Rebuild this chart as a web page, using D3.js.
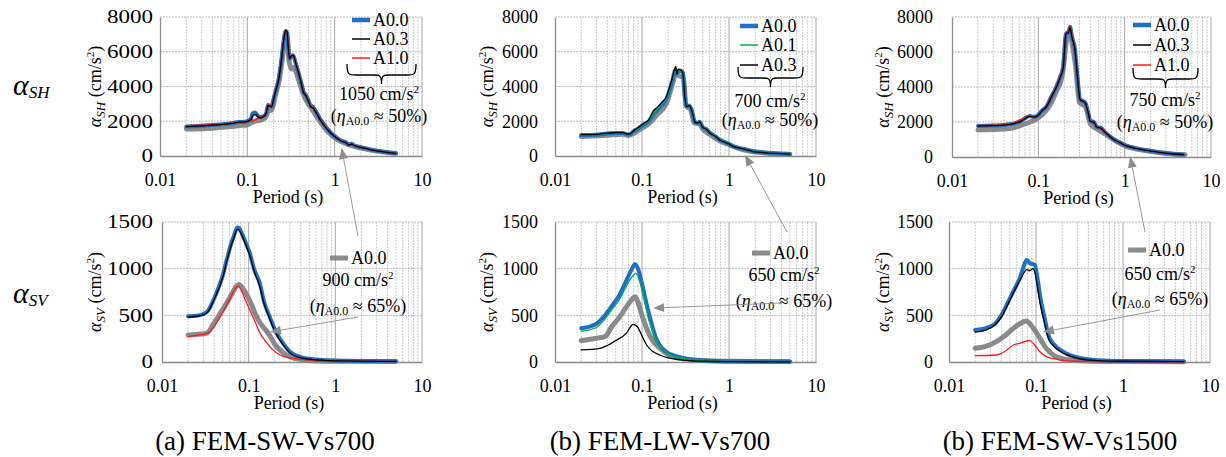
<!DOCTYPE html>
<html>
<head>
<meta charset="utf-8">
<script src="https://cdn.jsdelivr.net/npm/d3@7"></script>
<style>
  body { margin: 0; background: #fff; }
</style>
</head>
<body>
<svg id="chart" width="1226" height="457"></svg>
<script>
// ---- axis ticks ----
const xTicks = [0.01, 0.1, 1, 10];
const xTickLabels = ["0.01", "0.1", "1", "10"];
const shTicks = [0, 2000, 4000, 6000, 8000];
const svTicks = [0, 500, 1000, 1500];
const captions = ["(a) FEM-SW-Vs700", "(b) FEM-LW-Vs700", "(b) FEM-SW-Vs1500"];

// ---- (a) FEM-SW-Vs700, SH  [period (s), cm/s2] ----
const sw700SH_ref = [[0.02,1550],[0.04,1600],[0.06,1680],[0.08,1750],[0.1,1800],[0.12,2000],[0.14,2050],[0.16,2200],[0.175,2600],[0.19,2650],[0.21,3500],[0.23,4300],[0.25,5500],[0.27,6700],[0.285,6900],[0.3,5500],[0.32,5000],[0.34,5100],[0.38,4500],[0.42,3800],[0.46,3300],[0.5,3000],[0.55,2700],[0.6,2400],[0.7,1900],[0.8,1500],[0.9,1250],[1,1050],[1.2,820],[1.5,620],[2,450],[3,280],[5,150]];
const sw700SH_A00 = [[0.02,1700],[0.03,1740],[0.04,1780],[0.05,1820],[0.06,1860],[0.07,1900],[0.08,1960],[0.09,1960],[0.1,2000],[0.11,2150],[0.115,2450],[0.122,2500],[0.13,2350],[0.14,2250],[0.155,2300],[0.165,2500],[0.172,2930],[0.18,2900],[0.19,2850],[0.2,3300],[0.215,3900],[0.23,4500],[0.245,5500],[0.26,6600],[0.275,7200],[0.285,7100],[0.295,6200],[0.305,5600],[0.32,5750],[0.335,5800],[0.36,5300],[0.39,4700],[0.42,4100],[0.44,3700],[0.47,3500],[0.5,3200],[0.53,2900],[0.57,2800],[0.62,2500],[0.7,2050],[0.8,1650],[0.9,1350],[1.0,1150],[1.1,980],[1.2,870],[1.35,780],[1.45,640],[1.55,700],[1.7,600],[2,500],[2.3,440],[2.7,350],[3.2,290],[4,220],[5,160]];
const sw700SH_A03 = [[0.02,1690],[0.03,1730],[0.04,1770],[0.05,1810],[0.06,1850],[0.07,1890],[0.08,1950],[0.09,1950],[0.1,1990],[0.11,2100],[0.117,2350],[0.124,2380],[0.132,2250],[0.14,2200],[0.155,2280],[0.165,2480],[0.172,2900],[0.18,2870],[0.19,2830],[0.2,3280],[0.215,3880],[0.23,4480],[0.245,5480],[0.26,6600],[0.275,7250],[0.285,7150],[0.295,6200],[0.305,5600],[0.32,5750],[0.335,5800],[0.36,5300],[0.39,4700],[0.42,4050],[0.44,3650],[0.47,3450],[0.5,3150],[0.53,2850],[0.57,2750],[0.62,2450],[0.7,2000],[0.8,1600],[0.9,1320],[1.0,1120],[1.1,960],[1.2,850],[1.35,760],[1.45,630],[1.55,680],[1.7,590],[2,490],[2.3,430],[2.7,340],[3.2,280],[4,210],[5,150]];
const sw700SH_A10 = [[0.02,1750],[0.03,1780],[0.04,1810],[0.05,1840],[0.06,1870],[0.07,1900],[0.08,1930],[0.09,1940],[0.1,1960],[0.11,1990],[0.12,2050],[0.13,2150],[0.14,2220],[0.155,2320],[0.165,2550],[0.172,2950],[0.18,2950],[0.19,2900],[0.2,3350],[0.215,3950],[0.23,4550],[0.245,5550],[0.26,6650],[0.275,7250],[0.285,7150],[0.295,6250],[0.305,5650],[0.32,5800],[0.335,5850],[0.36,5350],[0.39,4750],[0.42,4100],[0.44,3700],[0.47,3500],[0.5,3200],[0.53,2900],[0.57,2800],[0.62,2500],[0.7,2050],[0.8,1650],[0.9,1350],[1.0,1150],[1.1,980],[1.2,870],[1.35,780],[1.45,650],[1.55,700],[1.7,600],[2,500],[2.3,440],[2.7,350],[3.2,290],[4,220],[5,160]];

// ---- (a) FEM-SW-Vs700, SV ----
const sw700SV_ref = [[0.02,290],[0.025,295],[0.033,310],[0.04,420],[0.047,520],[0.055,620],[0.065,740],[0.072,810],[0.078,830],[0.085,790],[0.095,720],[0.105,640],[0.12,510],[0.135,420],[0.155,350],[0.176,280],[0.2,190],[0.25,100],[0.3,55],[0.4,25],[0.6,12],[1,8],[5,5]];
const sw700SV_A00 = [[0.02,490],[0.025,495],[0.03,515],[0.034,550],[0.04,680],[0.045,800],[0.05,920],[0.056,1100],[0.062,1250],[0.068,1360],[0.074,1440],[0.078,1430],[0.085,1360],[0.095,1250],[0.103,1170],[0.115,1000],[0.135,840],[0.15,650],[0.176,480],[0.2,350],[0.25,200],[0.3,110],[0.39,55],[0.5,35],[0.8,20],[1,15],[2,10],[5,8]];
const sw700SV_A03 = [[0.02,480],[0.03,505],[0.034,540],[0.04,670],[0.05,900],[0.056,1080],[0.062,1230],[0.068,1340],[0.074,1420],[0.078,1410],[0.085,1340],[0.095,1230],[0.103,1140],[0.115,980],[0.135,800],[0.15,630],[0.176,455],[0.2,330],[0.25,180],[0.3,95],[0.39,48],[0.5,30],[1,12],[5,6]];
const sw700SV_A10 = [[0.02,271],[0.025,285],[0.033,307],[0.04,380],[0.047,486],[0.055,600],[0.065,730],[0.072,800],[0.076,810],[0.082,770],[0.09,680],[0.103,557],[0.12,420],[0.135,310],[0.16,210],[0.19,130],[0.23,75],[0.3,43],[0.5,20],[1,10],[5,5]];

// ---- (b) FEM-LW-Vs700, SH ----
const lw700SH_ref = [[0.02,1120],[0.04,1200],[0.06,1250],[0.07,1180],[0.08,1300],[0.1,1600],[0.12,1850],[0.15,2400],[0.19,3000],[0.22,4000],[0.245,4700],[0.27,4600],[0.3,4500],[0.32,2900],[0.36,2700],[0.4,1900],[0.46,1850],[0.5,1550],[0.6,1250],[0.8,850],[1,650],[1.3,430],[2,240],[3,150],[5,100]];
const lw700SH_A00 = [[0.02,1210],[0.03,1230],[0.04,1300],[0.05,1320],[0.06,1330],[0.066,1260],[0.072,1240],[0.079,1400],[0.09,1580],[0.104,1800],[0.12,2000],[0.135,2400],[0.15,2650],[0.17,2950],[0.19,3250],[0.21,3900],[0.225,4400],[0.24,4950],[0.25,4750],[0.26,4850],[0.28,4900],[0.295,4800],[0.31,3500],[0.326,2850],[0.35,2900],[0.38,2500],[0.405,1950],[0.43,1900],[0.46,1975],[0.5,1650],[0.55,1550],[0.6,1350],[0.7,1130],[0.79,920],[0.9,800],[1,700],[1.11,560],[1.3,470],[1.6,360],[1.9,260],[2.5,200],[3.5,150],[5,110]];
const lw700SH_A01 = [[0.02,1220],[0.03,1240],[0.04,1310],[0.05,1330],[0.06,1340],[0.066,1270],[0.072,1250],[0.079,1410],[0.09,1600],[0.104,1820],[0.12,2030],[0.135,2450],[0.15,2700],[0.17,3000],[0.19,3300],[0.21,3950],[0.225,4450],[0.24,4900],[0.25,4800],[0.26,4900],[0.28,4950],[0.295,4800],[0.31,3500],[0.326,2880],[0.35,2920],[0.38,2520],[0.405,1970],[0.43,1920],[0.46,1990],[0.5,1670],[0.55,1560],[0.6,1360],[0.7,1140],[0.79,930],[0.9,810],[1,710],[1.11,570],[1.3,480],[1.6,360],[1.9,265],[2.5,200],[3.5,150],[5,110]];
const lw700SH_A03 = [[0.02,1230],[0.03,1250],[0.04,1320],[0.05,1340],[0.06,1350],[0.066,1280],[0.072,1260],[0.079,1430],[0.09,1630],[0.104,1870],[0.12,2100],[0.135,2600],[0.15,2800],[0.17,3100],[0.19,3400],[0.21,4050],[0.225,4550],[0.244,5150],[0.252,4700],[0.26,5000],[0.28,4950],[0.295,4750],[0.31,3450],[0.326,2850],[0.35,2900],[0.38,2480],[0.405,1950],[0.43,1900],[0.46,1960],[0.5,1650],[0.55,1540],[0.6,1340],[0.7,1120],[0.79,910],[0.9,790],[1,690],[1.11,555],[1.3,465],[1.6,355],[1.9,258],[2.5,198],[3.5,148],[5,108]];

// ---- (b) FEM-LW-Vs700, SV ----
const lw700SV_ref = [[0.02,230],[0.03,255],[0.0376,271],[0.045,380],[0.055,480],[0.065,580],[0.075,660],[0.083,700],[0.09,640],[0.1,500],[0.113,361],[0.13,240],[0.16,147],[0.2,80],[0.28,40],[0.5,15],[1,7],[5,4]];
const lw700SV_A00 = [[0.02,361],[0.025,380],[0.03,410],[0.036,480],[0.045,600],[0.056,730],[0.065,860],[0.075,980],[0.083,1047],[0.09,1000],[0.1,840],[0.113,620],[0.13,400],[0.147,240],[0.17,150],[0.19,110],[0.24,65],[0.3,40],[0.5,15],[1,8],[5,5]];
const lw700SV_A01 = [[0.02,330],[0.025,345],[0.03,370],[0.036,440],[0.045,560],[0.056,680],[0.065,800],[0.075,900],[0.085,950],[0.095,850],[0.105,680],[0.12,450],[0.14,260],[0.17,140],[0.2,90],[0.3,35],[0.5,14],[1,7],[5,4]];
const lw700SV_A03 = [[0.02,129],[0.033,147],[0.041,182],[0.05,230],[0.066,307],[0.079,404],[0.088,380],[0.1,280],[0.113,182],[0.13,120],[0.16,75],[0.2,45],[0.3,20],[0.5,8],[1,4],[5,2]];

// ---- (b) FEM-SW-Vs1500, SH ----
const sw1500SH_ref = [[0.02,1550],[0.04,1600],[0.05,1650],[0.07,1900],[0.09,2100],[0.11,2400],[0.13,2800],[0.16,3700],[0.19,4700],[0.21,6500],[0.23,7100],[0.25,6300],[0.27,5200],[0.3,3100],[0.35,2900],[0.4,1900],[0.5,1550],[0.6,1300],[0.8,900],[1,650],[1.5,420],[2,320],[3,200],[5,130]];
const sw1500SH_A00 = [[0.02,1775],[0.03,1800],[0.04,1830],[0.047,1870],[0.055,1950],[0.065,2100],[0.072,2250],[0.08,2340],[0.088,2300],[0.096,2340],[0.11,2650],[0.125,2910],[0.14,3400],[0.163,4050],[0.18,4600],[0.195,5180],[0.205,6800],[0.212,7100],[0.222,7100],[0.233,7450],[0.245,6900],[0.266,6130],[0.285,4500],[0.305,3290],[0.33,3200],[0.35,3100],[0.38,2500],[0.4,2060],[0.44,2000],[0.48,1700],[0.52,1685],[0.6,1400],[0.74,1020],[0.9,800],[1.05,640],[1.2,560],[1.5,450],[1.97,357],[2.5,270],[3.5,190],[4.8,142]];
const sw1500SH_A03 = [[0.02,1760],[0.03,1790],[0.04,1820],[0.047,1860],[0.055,1940],[0.065,2080],[0.072,2230],[0.08,2320],[0.088,2280],[0.096,2320],[0.11,2630],[0.125,2890],[0.14,3380],[0.163,4030],[0.18,4580],[0.195,5150],[0.205,6750],[0.212,7080],[0.222,7080],[0.233,7400],[0.245,6850],[0.266,6100],[0.285,4480],[0.305,3270],[0.33,3180],[0.35,3080],[0.38,2480],[0.4,2040],[0.44,1980],[0.48,1690],[0.52,1670],[0.6,1390],[0.74,1010],[0.9,790],[1.05,630],[1.2,550],[1.5,445],[1.97,350],[2.5,265],[3.5,185],[4.8,140]];
const sw1500SH_A10 = [[0.02,1790],[0.03,1815],[0.04,1850],[0.047,1900],[0.055,2000],[0.065,2180],[0.072,2300],[0.08,2360],[0.088,2310],[0.096,2350],[0.11,2680],[0.125,2950],[0.14,3450],[0.163,4100],[0.18,4650],[0.195,5250],[0.205,6850],[0.212,7150],[0.222,7150],[0.233,7480],[0.245,6950],[0.266,6150],[0.285,4500],[0.305,3290],[0.33,3200],[0.35,3100],[0.38,2500],[0.4,2060],[0.44,2000],[0.48,1700],[0.52,1685],[0.6,1400],[0.74,1020],[0.9,800],[1.05,640],[1.2,560],[1.5,450],[1.97,357],[2.5,270],[3.5,190],[4.8,142]];

// ---- (b) FEM-SW-Vs1500, SV ----
const sw1500SV_ref = [[0.02,147],[0.026,165],[0.035,218],[0.045,290],[0.055,361],[0.065,410],[0.078,439],[0.09,380],[0.1,320],[0.111,254],[0.13,150],[0.158,75],[0.2,35],[0.3,15],[0.5,8],[1,5],[5,3]];
const sw1500SV_A00 = [[0.02,343],[0.026,360],[0.034,414],[0.04,500],[0.046,611],[0.055,760],[0.065,897],[0.072,1020],[0.078,1093],[0.085,1060],[0.097,1040],[0.104,900],[0.111,718],[0.125,480],[0.139,289],[0.16,190],[0.206,110],[0.25,70],[0.33,40],[0.5,20],[1,10],[5,6]];
const sw1500SV_A03 = [[0.02,320],[0.026,340],[0.034,400],[0.04,480],[0.046,590],[0.055,740],[0.065,870],[0.072,950],[0.078,990],[0.085,980],[0.092,1000],[0.097,960],[0.104,800],[0.111,640],[0.125,420],[0.139,250],[0.16,170],[0.206,95],[0.25,60],[0.33,32],[0.5,15],[1,8],[5,5]];
const sw1500SV_A10 = [[0.02,68],[0.035,75],[0.045,120],[0.055,182],[0.065,200],[0.078,225],[0.085,228],[0.095,190],[0.111,110],[0.13,60],[0.16,35],[0.2,18],[0.3,8],[1,3],[5,2]];

// ---- line styles ----
const styles = {
  ref: { color: "#8a8a8a", width: 5 },
  A00: { color: "#1f6fc2", width: 4 },
  A01: { color: "#00b050", width: 1.3 },
  A10: { color: "#ff1a1a", width: 1.3 },
  A03: { color: "#000000", width: 1.3 }
};
const drawOrder = ["ref", "A00", "A01", "A10", "A03"];
const FONT = "Liberation Serif";

// Panel layout (pixels) and the series each one shows.
const panels = [
  { col: 0, left: 160, right: 422, top: 17, bottom: 156, yMax: 8000, yTicks: shTicks, sub: "SH", stretch: 1.28, pad: 7,
    series: { ref: sw700SH_ref, A00: sw700SH_A00, A03: sw700SH_A03, A10: sw700SH_A10 } },
  { col: 0, left: 162, right: 422, top: 222, bottom: 362, yMax: 1500, yTicks: svTicks, sub: "SV", stretch: 1.28, pad: 9,
    series: { ref: sw700SV_ref, A00: sw700SV_A00, A03: sw700SV_A03, A10: sw700SV_A10 } },
  { col: 1, left: 555, right: 816, top: 17, bottom: 156, yMax: 8000, yTicks: shTicks, sub: "SH", stretch: 1, pad: 17,
    series: { ref: lw700SH_ref, A00: lw700SH_A00, A01: lw700SH_A01, A03: lw700SH_A03 } },
  { col: 1, left: 555, right: 816, top: 222, bottom: 362, yMax: 1500, yTicks: svTicks, sub: "SV", stretch: 1, pad: 17,
    series: { ref: lw700SV_ref, A00: lw700SV_A00, A01: lw700SV_A01, A03: lw700SV_A03 } },
  { col: 2, left: 952, right: 1211, top: 17, bottom: 157, yMax: 8000, yTicks: shTicks, sub: "SH", stretch: 1, pad: 19,
    series: { ref: sw1500SH_ref, A00: sw1500SH_A00, A03: sw1500SH_A03, A10: sw1500SH_A10 } },
  { col: 2, left: 949, right: 1210, top: 222, bottom: 362, yMax: 1500, yTicks: svTicks, sub: "SV", stretch: 1, pad: 16,
    series: { ref: sw1500SV_ref, A00: sw1500SV_A00, A03: sw1500SV_A03, A10: sw1500SV_A10 } }
];
const yTitleX = [101, 493, 889];

// Legends and notes for each panel (layout only)
const topLegends = [
  { x: 352, rows: [20, 39, 58], keys: ["A00", "A03", "A10"], labels: ["A0.0", "A0.3", "A1.0"],
    brace: [347, 416, 64], amount: "1050 cm/s", cx: 379, ay: 100, ey: 122, arrowTail: [358, 236], head: [1.2, 460] },
  { x: 740, rows: [26, 45, 65], keys: ["A00", "A01", "A03"], labels: ["A0.0", "A0.1", "A0.3"],
    brace: [738, 803, 67], amount: "700 cm/s", cx: 770, ay: 107, ey: 126, arrowTail: [787, 232], head: [1.53, 57] },
  { x: 1133, rows: [25, 45, 65], keys: ["A00", "A03", "A10"], labels: ["A0.0", "A0.3", "A1.0"],
    brace: [1133, 1198, 68], amount: "750 cm/s", cx: 1165, ay: 106, ey: 128, arrowTail: [1145, 232], head: [1.16, 20] }
];
const botLegends = [
  { x: 330, y: 258, amount: "900 cm/s", cx: 358, ay: 286, ey: 312, arrowTail: [358, 317], head: [0.176, 321] },
  { x: 752, y: 253, amount: "650 cm/s", cx: 784, ay: 281, ey: 307, arrowTail: [782, 303], head: [0.134, 578] },
  { x: 1128, y: 250, amount: "650 cm/s", cx: 1160, ay: 280, ey: 305, arrowTail: [1160, 310], head: [0.12, 321] }
];

const minorPeriods = [];
[0.01, 0.1, 1].forEach(d => { for (let k = 2; k <= 9; k++) minorPeriods.push(+(d * k).toPrecision(3)); });

const svg = d3.select("#chart");
svg.append("rect").attr("width", 1226).attr("height", 457).attr("fill", "#fff");

const scales = [];

// all text goes through here so the serif face is set on each element
function txt(parent, x, y, size) {
  return parent.append("text").attr("x", x).attr("y", y)
    .attr("font-family", FONT).attr("font-size", size).attr("fill", "#000");
}

panels.forEach(p => {
  const x = d3.scaleLog().domain([0.01, 10]).range([p.left, p.right]);
  const y = d3.scaleLinear().domain([0, p.yMax]).range([p.bottom, p.top]);
  scales.push({ x, y });
  const g = svg.append("g");

  // grid
  g.selectAll(".minor").data(minorPeriods).join("line")
    .attr("x1", d => x(d)).attr("x2", d => x(d))
    .attr("y1", p.top).attr("y2", p.bottom)
    .attr("stroke", "#cdcdcd").attr("stroke-width", 1).attr("stroke-dasharray", "2,1");
  g.selectAll(".hgrid").data(p.yTicks.slice(1)).join("line")
    .attr("x1", p.left).attr("x2", p.right)
    .attr("y1", d => y(d)).attr("y2", d => y(d))
    .attr("stroke", "#bdbdbd").attr("stroke-width", 1).attr("stroke-dasharray", "2,1");
  g.selectAll(".major").data(xTicks.slice(1)).join("line")
    .attr("x1", d => x(d)).attr("x2", d => x(d))
    .attr("y1", p.top).attr("y2", p.bottom)
    .attr("stroke", "#a6a6a6").attr("stroke-width", 1);

  // axes
  const xa = g.append("g").attr("transform", `translate(0,${p.bottom})`)
    .call(d3.axisBottom(x).tickValues(xTicks).tickFormat((d, i) => xTickLabels[i])
      .tickSize(0).tickSizeOuter(0).tickPadding(17));
  xa.attr("font-family", null).attr("font-size", null);
  xa.selectAll("text").attr("font-family", FONT).attr("font-size", 18);
  xa.select(".domain").attr("stroke", "#8c8c8c").attr("stroke-width", 1.3);

  const ya = g.append("g").attr("transform", `translate(${p.left},0)`)
    .call(d3.axisLeft(y).tickValues(p.yTicks).tickFormat(d3.format("d"))
      .tickSize(0).tickSizeOuter(0));
  ya.attr("font-family", null).attr("font-size", null);
  ya.select(".domain").attr("stroke", "#8c8c8c").attr("stroke-width", 1.3);
  ya.selectAll("text")
    .attr("font-family", FONT).attr("font-size", 18)
    .attr("x", 0)
    .attr("transform", `translate(${-p.pad},0) scale(${p.stretch},1)`);

  // x label
  txt(g, (p.left + p.right) / 2 - 3, p.bottom + 47, 18)
    .attr("text-anchor", "middle").text("Period (s)");

  // y label
  const yt = txt(g, 0, 0, 18)
    .attr("transform", `translate(${yTitleX[p.col]},${(p.top + p.bottom) / 2}) rotate(-90)`)
    .attr("text-anchor", "middle");
  yt.append("tspan").attr("font-style", "italic").text("α");
  yt.append("tspan").attr("font-style", "italic").attr("font-size", 13).attr("dy", 4).text(p.sub);
  yt.append("tspan").attr("dy", -4).text(" (cm/s");
  yt.append("tspan").attr("font-size", 11).attr("dy", -7).text("2");
  yt.append("tspan").attr("dy", 7).text(")");

  // curves
  const line = d3.line().x(d => x(d[0])).y(d => y(d[1])).curve(d3.curveMonotoneX);
  drawOrder.forEach(k => {
    if (!p.series[k]) return;
    g.append("path").datum(p.series[k])
      .attr("d", line).attr("fill", "none")
      .attr("stroke", styles[k].color).attr("stroke-width", styles[k].width)
      .attr("stroke-linejoin", "round").attr("stroke-linecap", "round");
  });
});

// ---- annotations ----
function etaText(cx, y, pct) {
  const t = txt(svg, cx, y, 18).attr("text-anchor", "middle");
  t.append("tspan").text("(");
  t.append("tspan").attr("font-style", "italic").text("η");
  t.append("tspan").attr("font-size", 12).attr("dy", 3).text("A0.0");
  t.append("tspan").attr("dy", -3).text(" ≈ " + pct + ")");
}
function amountText(cx, y, s) {
  const t = txt(svg, cx, y, 18).attr("text-anchor", "middle");
  t.append("tspan").text(s);
  t.append("tspan").attr("font-size", 11).attr("dy", -7).text("2");
}
function arrow(tail, headPt) {
  const [x1, y1] = tail, [x2, y2] = headPt;
  const a = Math.atan2(y2 - y1, x2 - x1), L = 11, W = 4.5;
  const bx = x2 - L * Math.cos(a), by = y2 - L * Math.sin(a);
  svg.append("line").attr("x1", x1).attr("y1", y1).attr("x2", bx).attr("y2", by)
    .attr("stroke", "#8c8c8c").attr("stroke-width", 0.9);
  svg.append("path")
    .attr("d", `M${x2},${y2}L${bx + W * Math.sin(a)},${by - W * Math.cos(a)}L${bx - W * Math.sin(a)},${by + W * Math.cos(a)}Z`)
    .attr("fill", "#8c8c8c");
}
function brace(xl, xr, y) {
  const xm = (xl + xr) / 2, h = 20, ym = y + h * 0.55;
  const d = `M${xl},${y} C${xl},${ym} ${xl + 2},${ym} ${xl + 9},${ym} L${xm - 8},${ym} C${xm - 2},${ym} ${xm},${ym} ${xm},${y + h}` +
            ` C${xm},${ym} ${xm + 2},${ym} ${xm + 8},${ym} L${xr - 9},${ym} C${xr - 2},${ym} ${xr},${ym} ${xr},${y}`;
  svg.append("path").attr("d", d).attr("fill", "none").attr("stroke", "#000").attr("stroke-width", 1.3);
}

topLegends.forEach((L, i) => {
  L.keys.forEach((k, j) => {
    svg.append("line").attr("x1", L.x).attr("x2", L.x + 18).attr("y1", L.rows[j]).attr("y2", L.rows[j])
      .attr("stroke", styles[k].color).attr("stroke-width", k === "A00" ? 4.5 : 1.5);
    txt(svg, L.x + 21, L.rows[j] + 6, 18).text(L.labels[j]);
  });
  brace(L.brace[0], L.brace[1], L.brace[2]);
  amountText(L.cx, L.ay, L.amount);
  etaText(L.cx, L.ey, "50%");
  const sc = scales[i * 2];
  arrow(L.arrowTail, [sc.x(L.head[0]), sc.y(L.head[1])]);
});

botLegends.forEach((L, i) => {
  svg.append("line").attr("x1", L.x).attr("x2", L.x + 18).attr("y1", L.y).attr("y2", L.y)
    .attr("stroke", styles.ref.color).attr("stroke-width", 5);
  txt(svg, L.x + 21, L.y + 6, 18).text("A0.0");
  amountText(L.cx, L.ay, L.amount);
  etaText(L.cx, L.ey, "65%");
  const sc = scales[i * 2 + 1];
  arrow(L.arrowTail, [sc.x(L.head[0]), sc.y(L.head[1])]);
});

// row labels
[["SH", 95], ["SV", 303]].forEach(([s, yy]) => {
  const t = txt(svg, 13, yy, 30);
  t.append("tspan").attr("font-style", "italic").text("α");
  t.append("tspan").attr("font-style", "italic").attr("font-size", 17).attr("dy", 3).text(s);
});

// captions
[265, 660, 1060].forEach((cx, i) => {
  txt(svg, cx, 450, 27).attr("text-anchor", "middle").text(captions[i]);
});
</script>
</body>
</html>
